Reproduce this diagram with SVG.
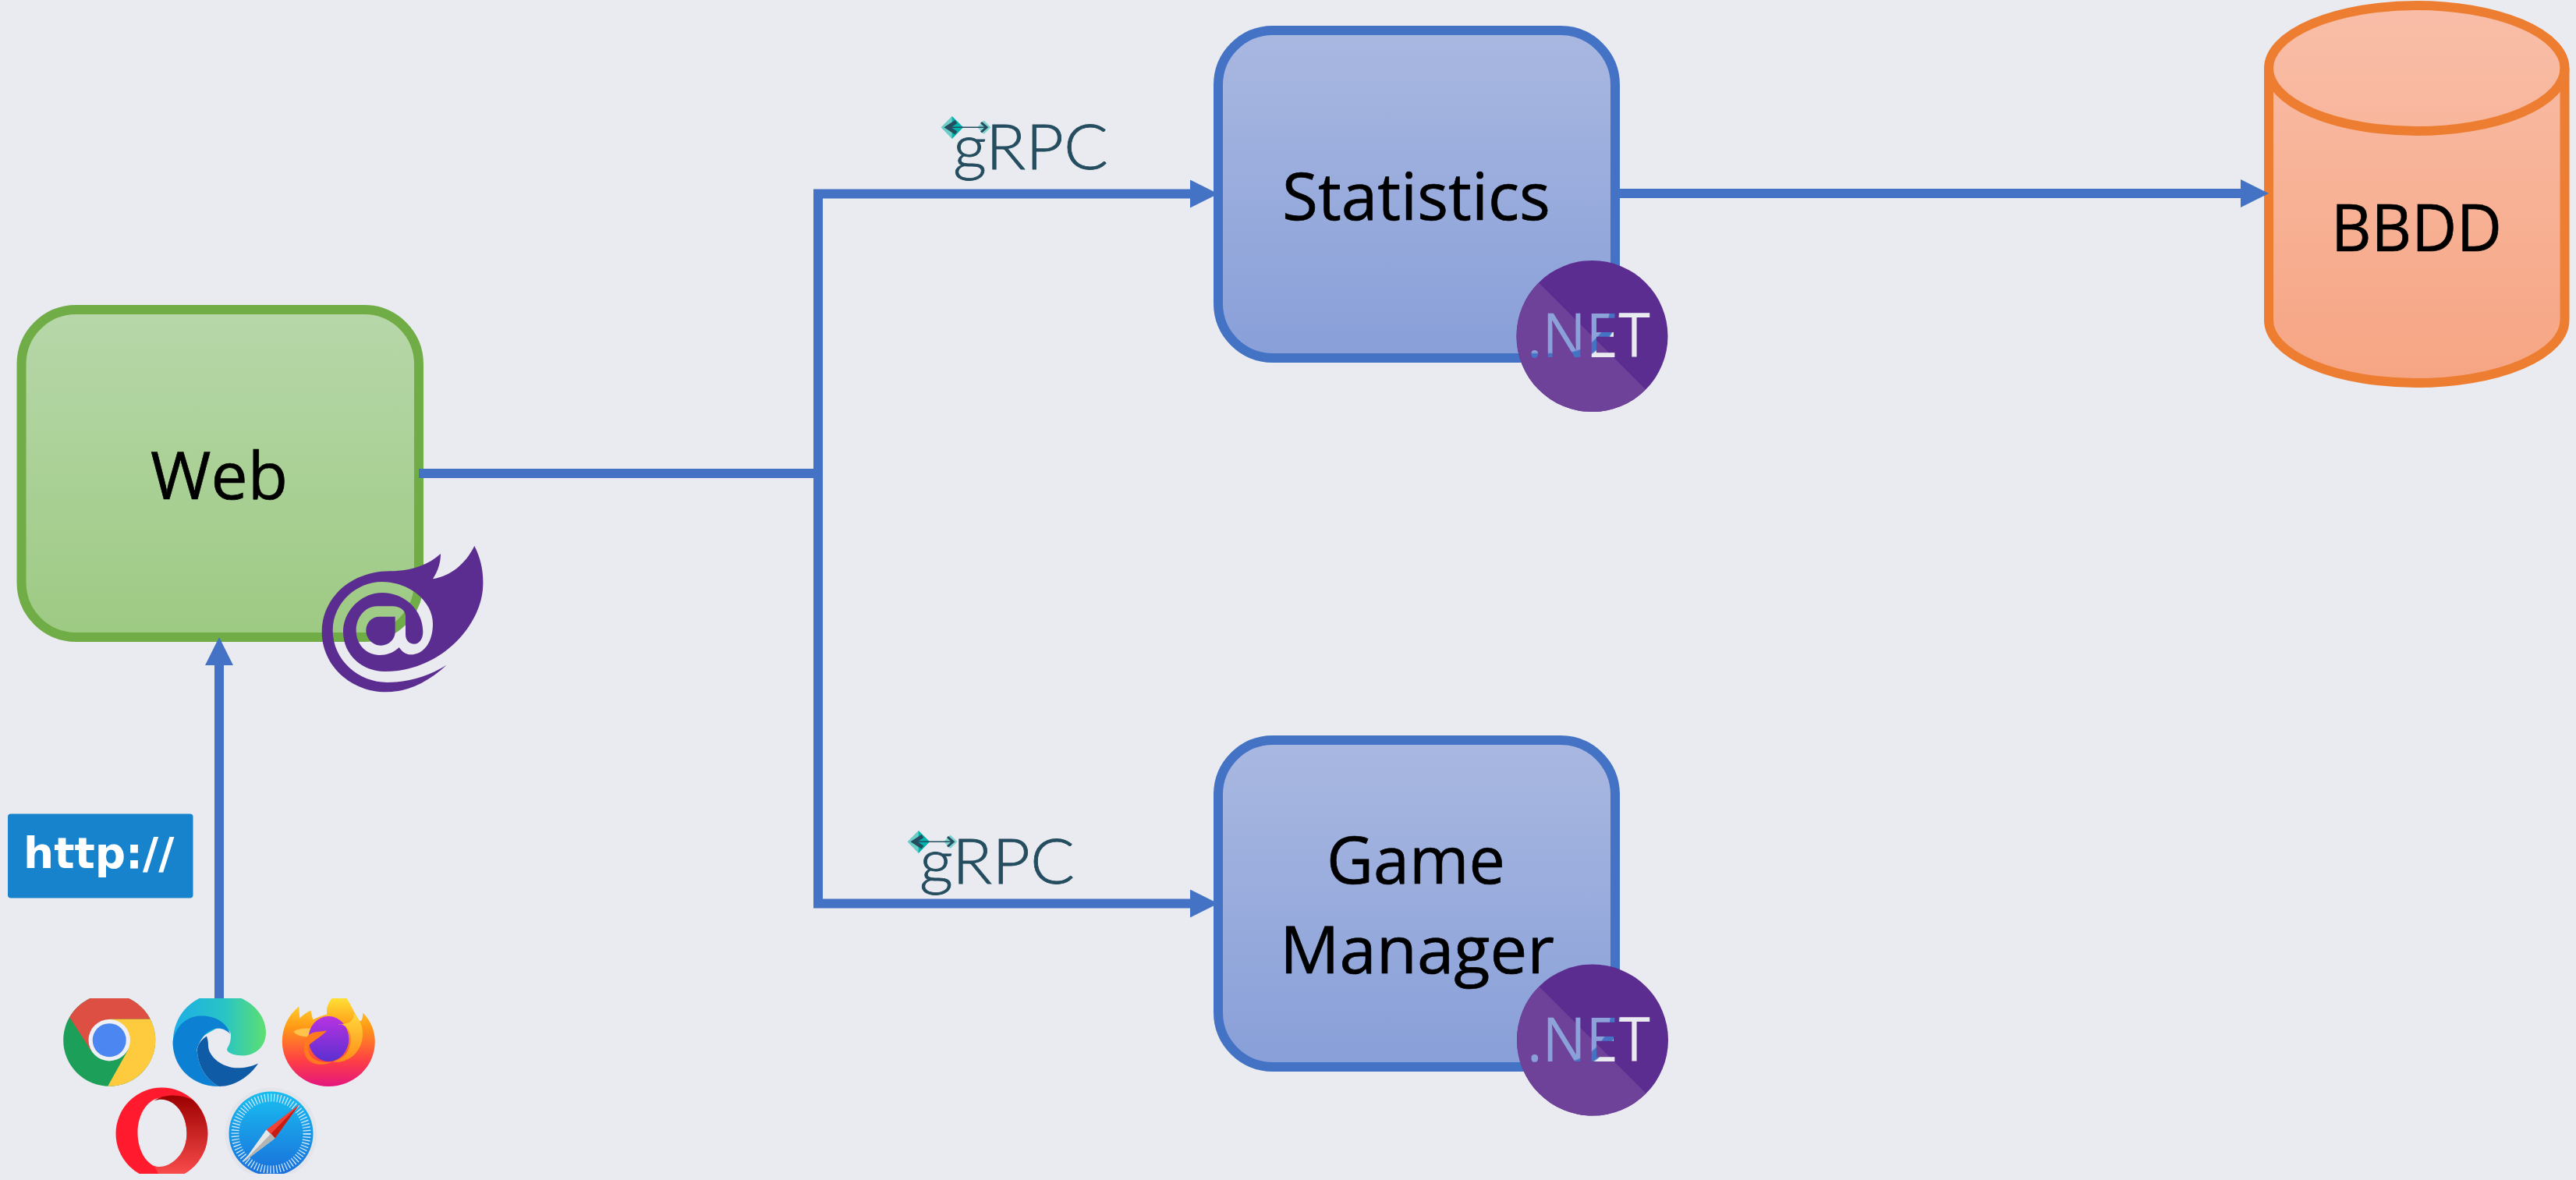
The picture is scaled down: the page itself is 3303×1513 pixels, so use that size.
<svg xmlns="http://www.w3.org/2000/svg" width="3303" height="1513" viewBox="0 0 3303 1513">
<style>
.label{font-family:"Open Sans","Noto Sans",sans-serif;font-size:85px;fill:#000;stroke:#000;stroke-width:.7;font-variant-ligatures:none}
.net{font-family:"Open Sans","Noto Sans",sans-serif;font-size:78px}
.grpc{font-family:"Lato","Open Sans",sans-serif;font-weight:300;font-size:80px;fill:#244D5F;stroke:#244D5F;stroke-width:.8}
.http{font-family:"DejaVu Sans",sans-serif;font-weight:700;font-size:55px;fill:#fff}
.conn{fill:none;stroke:#4472C4;stroke-width:12;stroke-linejoin:miter}
.blue{fill:url(#gBlue);stroke:#4472C4;stroke-width:12}
.green{fill:url(#gGreen);stroke:#70AD47;stroke-width:12}
.dark{fill:#5C2D91}
.lite{fill:#6F4299}
</style>
<defs>
<linearGradient id="gBlue" x1="0" y1="0" x2="0" y2="1"><stop offset="0" stop-color="#A9B8E1"/><stop offset="1" stop-color="#889FD8"/></linearGradient>
<linearGradient id="gGreen" x1="0" y1="0" x2="0" y2="1"><stop offset="0" stop-color="#B7D7A9"/><stop offset="1" stop-color="#9DCA83"/></linearGradient>
<linearGradient id="gOrange" gradientUnits="userSpaceOnUse" x1="0" y1="7" x2="0" y2="491"><stop offset="0" stop-color="#F9BEA8"/><stop offset="1" stop-color="#F6A583"/></linearGradient>
<marker id="arrow" markerUnits="userSpaceOnUse" markerWidth="36" markerHeight="36" refX="2" refY="18" orient="auto"><path d="M0,0L36,18L0,36Z" fill="#4472C4"/></marker>
<pattern id="holeS" patternUnits="userSpaceOnUse" x="0" y="0" width="3303" height="1513"><rect width="3303" height="1513" fill="#EAEBF1"/><rect class="blue" x="1562" y="39" width="509" height="420" rx="70"/></pattern>
<pattern id="holeG" patternUnits="userSpaceOnUse" x="0" y="0" width="3303" height="1513"><rect width="3303" height="1513" fill="#EAEBF1"/><rect class="blue" x="1562" y="949" width="509" height="419" rx="70"/></pattern>
<clipPath id="clipTop"><rect x="0" y="1280" width="600" height="233"/></clipPath>
<clipPath id="clipBot"><rect x="0" y="1280" width="600" height="225"/></clipPath>
<linearGradient id="gEdgeTop" x1="0" y1="0" x2="1" y2="0"><stop offset="0" stop-color="#1DAEE6"/><stop offset=".55" stop-color="#28C4C6"/><stop offset="1" stop-color="#5DE070"/></linearGradient>
<linearGradient id="gFox" x1="0" y1="0" x2="0" y2="1"><stop offset="0" stop-color="#FFE83A"/><stop offset=".35" stop-color="#FF9A16"/><stop offset=".72" stop-color="#FF3F45"/><stop offset="1" stop-color="#E3157F"/></linearGradient>
<linearGradient id="gBall" x1="0" y1="0" x2="0" y2="1"><stop offset="0" stop-color="#B833E1"/><stop offset="1" stop-color="#5B2FD0"/></linearGradient>
<linearGradient id="gSwirl" x1="0" y1="0" x2="0" y2="1"><stop offset="0" stop-color="#FFD93A"/><stop offset="1" stop-color="#FF8A1A"/></linearGradient>
<linearGradient id="gOpera" x1="0" y1="0" x2="0" y2="1"><stop offset="0" stop-color="#9C0000"/><stop offset="1" stop-color="#FF5050"/></linearGradient>
<linearGradient id="gSafari" x1="0" y1="0" x2="0" y2="1"><stop offset="0" stop-color="#19BFF0"/><stop offset="1" stop-color="#1A6EDB"/></linearGradient>
</defs>

<rect id="background" width="3303" height="1513" fill="#EAEBF1"/>

<g id="web"><rect class="green" x="27.5" y="397" width="509.5" height="420" rx="70"/><text class="label" x="193" y="640" textLength="176" lengthAdjust="spacingAndGlyphs">Web</text></g>
<g id="statistics"><rect class="blue" x="1562" y="39" width="509" height="420" rx="70"/><text class="label" x="1644" y="282" textLength="344" lengthAdjust="spacingAndGlyphs">Statistics</text></g>
<g id="game-manager"><rect class="blue" x="1562" y="949" width="509" height="419" rx="70"/><text class="label" x="1701" y="1133" textLength="229" lengthAdjust="spacingAndGlyphs">Game</text><text class="label" x="1641" y="1248" textLength="352" lengthAdjust="spacingAndGlyphs">Manager</text></g>
<g id="bbdd"><path d="M2909,87.500A189.750,80.500 0 0 1 3288.500,87.500V410.500A189.750,80.500 0 0 1 2909,410.500Z" fill="url(#gOrange)" stroke="#ED7D31" stroke-width="12"/><path d="M2909,87.500A189.750,80.500 0 0 0 3288.500,87.500" fill="none" stroke="#ED7D31" stroke-width="12"/><text class="label" x="2989" y="322" textLength="219" lengthAdjust="spacingAndGlyphs">BBDD</text></g>

<g id="connectors">
<path class="conn" d="M537,607H1049V248.500H1528" marker-end="url(#arrow)"/>
<path class="conn" d="M537,607H1049V1158.500H1528" marker-end="url(#arrow)"/>
<path class="conn" d="M2071,248H2875" marker-end="url(#arrow)"/>
<path class="conn" d="M281,1282V851" marker-end="url(#arrow)"/>
</g>

<g id="blazor-logo" transform="translate(380,660) scale(.33333)"><path class="dark" d="M578,578C500,650 420,682 345,682C210,682 98,580 98,450C98,320 210,217 360,217C440,217 505,195 555,150C555,185 545,215 525,247C595,235 650,190 685,120C708,165 720,215 718,270C716,420 560,603 340,603C255,603 180,540 180,450C180,370 250,300 330,300C420,300 487,370 487,450C487,480 472,497 453,497C435,497 420,485 420,460L420,390C420,370 400,352 370,352L310,352C265,352 230,395 230,445C230,500 270,540 320,540C350,540 375,530 395,510C405,525 420,538 440,538C490,538 525,490 525,420C525,330 430,258 330,258C230,258 140,340 140,445C140,560 240,645 350,645C430,645 510,620 578,578ZM380,392L320,392C290,392 268,415 268,445C268,475 292,503 325,503C355,503 380,480 380,450Z"/></g>

<g id="dotnet-statistics"><g transform="translate(2041.500,431)"><circle class="dark" r="97"/><path class="lite" d="M-68.600,-68.600A97,97 0 0 0 68.600,68.600Z"/></g><text class="net" x="1958" y="458" textLength="158" lengthAdjust="spacingAndGlyphs" fill="url(#holeS)">.NET</text></g>
<g id="dotnet-game-manager"><g transform="translate(2042,1333.500)"><circle class="dark" r="97"/><path class="lite" d="M-68.600,-68.600A97,97 0 0 0 68.600,68.600Z"/></g><text class="net" x="1958" y="1361" textLength="158" lengthAdjust="spacingAndGlyphs" fill="url(#holeG)">.NET</text></g>

<g id="grpc-statistics"><text class="grpc" x="1222" y="217" textLength="199" lengthAdjust="spacingAndGlyphs">gRPC</text><g><path d="M1206.500,163.300L1220.700,149L1235,163.300L1220.700,178Z" fill="#6BCDC6"/><path d="M1220.700,149L1235,163.300L1220.700,178Z" fill="#00B3AC"/><path d="M1253,163.300L1261.700,154.600L1270.400,163.300L1261.700,172Z" fill="#7FD3CE"/><path d="M1218,163.300H1264" stroke="#244D5F" stroke-width="1.500"/><path d="M1226,156L1215,163.300L1226,170.500" fill="none" stroke="#244D5F" stroke-width="5"/><path d="M1258,157L1265,163.300L1258,169.500" fill="none" stroke="#244D5F" stroke-width="3"/></g></g>
<g id="grpc-game-manager"><text class="grpc" x="1179" y="1133" textLength="199" lengthAdjust="spacingAndGlyphs">gRPC</text><g transform="translate(-43,916)"><path d="M1206.500,163.300L1220.700,149L1235,163.300L1220.700,178Z" fill="#6BCDC6"/><path d="M1220.700,149L1235,163.300L1220.700,178Z" fill="#00B3AC"/><path d="M1253,163.300L1261.700,154.600L1270.400,163.300L1261.700,172Z" fill="#7FD3CE"/><path d="M1218,163.300H1264" stroke="#244D5F" stroke-width="1.500"/><path d="M1226,156L1215,163.300L1226,170.500" fill="none" stroke="#244D5F" stroke-width="5"/><path d="M1258,157L1265,163.300L1258,169.500" fill="none" stroke="#244D5F" stroke-width="3"/></g></g>

<g id="http-badge"><rect x="10" y="1043.500" width="237.500" height="108" rx="4" fill="#1783CC"/><text class="http" x="30" y="1113">http://</text></g>

<g id="browsers">
<g clip-path="url(#clipTop)">
<g id="chrome" transform="translate(140.200,1333.700)"><circle r="59" fill="#1C9F58"/><path d="M-51,-29.500A59,59 0 0 1 52.600,-27L0,-27L-23.400,13.500Z" fill="#DC4F42"/><path d="M52.600,-27A59,59 0 0 1 -2,59L23.400,13.500L0,-27Z" fill="#FFCB3E"/><circle r="26.700" fill="#EEF0F5"/><circle r="21.500" fill="#4C86F0"/></g>
<g id="edge" transform="translate(281,1333.500)"><path d="M-59,2C-59,-35 -30,-59.500 0,-59.500C35,-59.500 60,-35 60,-10C60,10 45,20 30,20C18,20 10,16 10,12C10,10 15,6 15,-6C15,-14 8,-15 -3,-15L-30,0Z" fill="url(#gEdgeTop)"/><path d="M-59.500,2C-55,-20 -40,-31 -22,-31C-5,-31 10,-22 14,-8C8,-14 2,-15 -1,-15C-10,-15 -18,-8 -22,-2C-29,8 -29,15 -28,15C-27,35 -15,52 0,59.500C-35,59.500 -59.500,35 -59.500,2Z" fill="#0C80D2"/><path d="M-16,-5C-24,0 -29,8 -28,15C-27,35 -15,52 0,59.500C20,59.500 40,46 50,30C38,36 20,38 9,33C-3,29 -14,18 -14,7C-14,2 -15,-2 -16,-5Z" fill="#0F5BA6"/></g>
<g id="firefox" transform="translate(421.300,1333.500)"><path d="M-59.500,2C-59.500,-15 -52,-32 -38,-43L-37,-28C-33,-32 -27,-36 -23,-38L-20,-26C-12,-30 -6,-32 -2,-33C-4,-42 2,-53 9,-58L20,-58C28,-48 32,-36 38,-27C42,-20 44,-28 44,-35C54,-25 59.500,-12 59.500,2C59.500,35 32,59.500 0,59.500C-33,59.500 -59.500,33 -59.500,2Z" fill="url(#gFox)"/><path d="M-45,-11C-35,-17 -20,-15 -5,-12C-12,-5 -20,-2 -28,-4C-35,-5 -42,-6 -45,-11Z" fill="#FFC24A"/><ellipse cy="-1.500" rx="26" ry="29" fill="url(#gBall)"/><path d="M-28,-4C-22,-12 -12,-10 -2,-12C-12,-2 -22,2 -26,8C-28,25 -10,30 5,28C-18,38 -40,25 -28,-4Z" fill="#FF7A1E"/><path d="M12,-20C24,-22 32,-6 27,8C24,20 14,25 5,28C20,30 38,22 43,0C46,-15 40,-28 32,-34C33,-24 26,-20 12,-20Z" fill="url(#gSwirl)"/></g>
</g>
<g clip-path="url(#clipBot)">
<g id="opera" transform="translate(207.500,1453.500)"><path d="M0,-59A59,59 0 1 1 0,59A59,59 0 1 1 0,-59ZM0,-46C-17,-46 -31,-26 -31,-1C-31,24 -17,44 0,44C17,44 32,24 32,-1C32,-26 17,-46 0,-46Z" fill="#FF1B2D" fill-rule="evenodd"/><path d="M-10,-42C5,-52 25,-50 40,-43A59,59 0 0 1 0,59L-10,41C5,48 32,30 32,0C32,-28 12,-50 -10,-42Z" fill="url(#gOpera)"/></g>
<g id="safari" transform="translate(347.500,1453.500)"><circle r="59" fill="#E4E5EA"/><circle r="54" fill="url(#gSafari)"/><circle r="46" fill="none" stroke="#CFE8FA" stroke-width="10" stroke-dasharray="1.300 2.700"/><path d="M36,-37L5,6L-6,-5Z" fill="#F04337"/><path d="M36,-37L5,6L0,0Z" fill="#C81C12"/><path d="M-36,37L5,6L-6,-5Z" fill="#E6E6E6"/><path d="M-36,37L5,6L0,0Z" fill="#B4B4B4"/></g>
</g>
</g>
</svg>
